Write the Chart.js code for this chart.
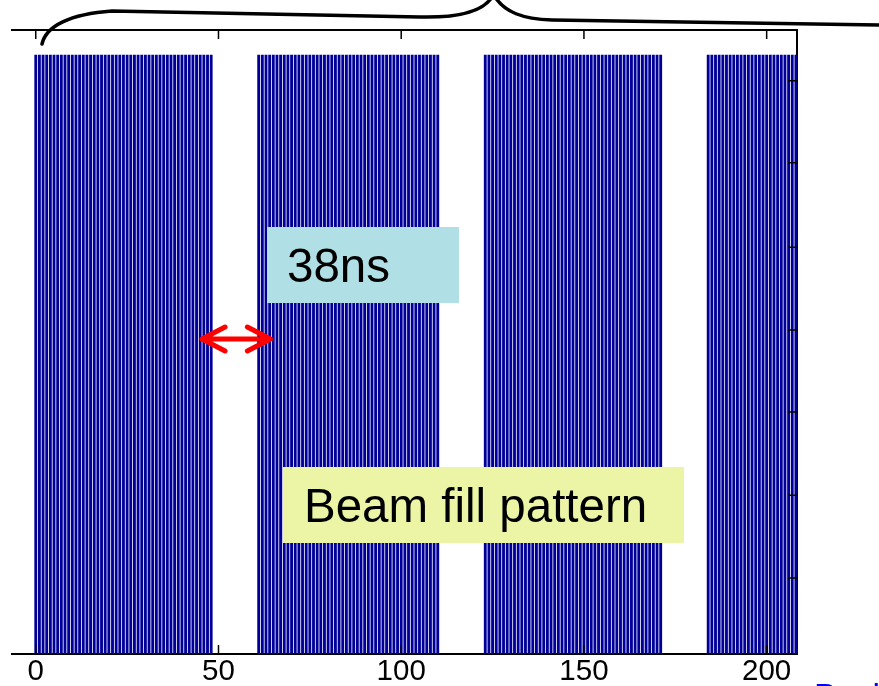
<!DOCTYPE html>
<html>
<head>
<meta charset="utf-8">
<script src="https://cdn.jsdelivr.net/npm/chart.js@4"></script>
<style>
  body { margin: 0; background: #fff; }
  canvas { display: block; }
</style>
</head>
<body>
<canvas id="fillChart" width="879" height="686"></canvas>
<script>
"use strict";

// Filled buckets: each bunch train runs from trainStart to trainEnd
const trainStart = [0, 61, 123, 184];
const trainEnd = [48, 110, 171, 208];
const bunchFill = 1;
const xTicks = [0, 50, 100, 150, 200];
const yTicks = [0.127, 0.265, 0.404, 0.541, 0.679, 0.82, 0.957];

const buckets = [];
trainStart.forEach((s, i) => {
  for (let b = s; b <= trainEnd[i]; b++) buckets.push({ x: b, y: bunchFill });
});

const FONT = "Liberation Sans, Arial, sans-serif";

const setTicks = (list) => (scale) => {
  scale.ticks = list.map((v) => ({ value: v }));
};

// inner ticks, text boxes, arrow, brace
const decor = {
  id: "decor",
  afterDatasetsDraw(chart) {
    const { ctx, chartArea: a, scales } = chart;
    ctx.save();
    ctx.strokeStyle = "#000";
    ctx.lineWidth = 1.5;
    ctx.beginPath();
    xTicks.forEach((v) => {
      const px = scales.x.getPixelForValue(v);
      ctx.moveTo(px, a.bottom);
      ctx.lineTo(px, a.bottom - 9);
      ctx.moveTo(px, a.top);
      ctx.lineTo(px, a.top + 9);
    });
    yTicks.forEach((v) => {
      const py = scales.y.getPixelForValue(v);
      ctx.moveTo(a.right, py);
      ctx.lineTo(a.right - 9, py);
    });
    ctx.stroke();
    ctx.restore();
  },
  afterDraw(chart) {
    const { ctx, scales } = chart;
    ctx.save();

    // 38ns label
    ctx.fillStyle = "#b0e0e6";
    ctx.fillRect(267, 227, 192, 76);
    ctx.fillStyle = "#000";
    ctx.font = "47.5px " + FONT;
    ctx.textBaseline = "alphabetic";
    ctx.fillText("38ns", 287, 282);

    // Beam fill pattern label
    ctx.fillStyle = "#ebf5a5";
    ctx.fillRect(283, 467, 401, 76);
    ctx.fillStyle = "#000";
    ctx.fillText("Beam fill pattern", 304, 522);

    // red double arrow across the gap
    const x1 = scales.x.getPixelForValue(45.5);
    const x2 = scales.x.getPixelForValue(64.2);
    const y = 339;
    ctx.strokeStyle = "#ff0000";
    ctx.lineWidth = 5;
    ctx.lineCap = "round";
    ctx.lineJoin = "round";
    ctx.beginPath();
    ctx.moveTo(x1, y);
    ctx.lineTo(x2, y);
    ctx.moveTo(x1 + 23, y - 12);
    ctx.lineTo(x1, y);
    ctx.lineTo(x1 + 23, y + 12);
    ctx.moveTo(x2 - 23, y - 12);
    ctx.lineTo(x2, y);
    ctx.lineTo(x2 - 23, y + 12);
    ctx.stroke();

    // brace above the plot
    ctx.strokeStyle = "#000";
    ctx.lineWidth = 3.5;
    ctx.beginPath();
    ctx.moveTo(42, 44);
    ctx.bezierCurveTo(46, 26, 70, 14, 112, 11);
    ctx.lineTo(420, 17);
    ctx.bezierCurveTo(462, 18, 484, 10, 492, -3);
    ctx.moveTo(495, -3);
    ctx.bezierCurveTo(505, 12, 522, 19, 552, 20);
    ctx.lineTo(879, 25);
    ctx.stroke();

    // cut-off blue caption at the bottom right
    ctx.fillStyle = "#0000ff";
    ctx.font = "34px " + FONT;
    ctx.fillText("Bucket", 814, 707);

    ctx.restore();
  },
};

const fillCtx = document.getElementById("fillChart").getContext("2d");

new Chart(fillCtx, {
  type: "bar",
  data: {
    datasets: [
      {
        data: buckets,
        backgroundColor: "#000099",
        borderWidth: 0,
        barThickness: 2.2,
      },
    ],
  },
  options: {
    responsive: false,
    animation: false,
    layout: { padding: { left: 12, top: 30, right: 82, bottom: 0 } },
    plugins: {
      legend: { display: false },
      tooltip: { enabled: false },
    },
    scales: {
      x: {
        type: "linear",
        position: "bottom",
        offset: false,
        min: -6.5,
        max: 208.3,
        afterBuildTicks: setTicks(xTicks),
        afterFit: (s) => {
          s.height = 32;
        },
        grid: { drawOnChartArea: false, drawTicks: false, offset: false },
        border: { color: "#000", width: 2 },
        ticks: {
          color: "#000",
          font: { family: FONT, size: 29.5, lineHeight: 1 },
          padding: 3,
          maxRotation: 0,
          autoSkip: false,
        },
      },
      xTop: {
        type: "linear",
        position: "top",
        offset: false,
        min: -6.5,
        max: 208.3,
        afterBuildTicks: setTicks(xTicks),
        afterFit: (s) => {
          s.height = 0;
        },
        grid: { drawOnChartArea: false, drawTicks: false },
        border: { color: "#000", width: 2 },
        ticks: { display: false },
      },
      y: {
        position: "right",
        min: 0,
        max: 1.0417,
        afterBuildTicks: setTicks(yTicks),
        afterFit: (s) => {
          s.width = 0;
        },
        grid: { drawOnChartArea: false, drawTicks: false },
        border: { color: "#000", width: 2 },
        ticks: { display: false },
      },
    },
  },
  plugins: [decor],
});
</script>
</body>
</html>
